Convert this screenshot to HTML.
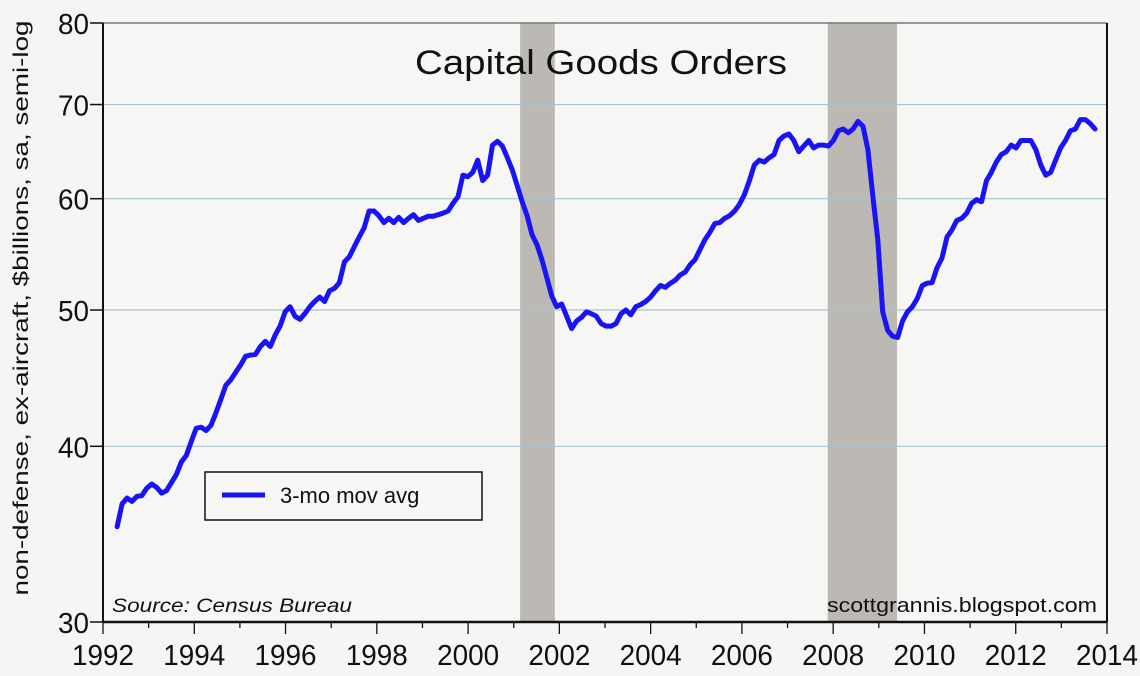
<!DOCTYPE html>
<html><head><meta charset="utf-8"><style>
html,body{margin:0;padding:0;background:#f5f5f3;}
svg{display:block;font-family:"Liberation Sans",sans-serif;}
</style></head><body>
<svg id="chart" width="1140" height="676" viewBox="0 0 1140 676" xmlns="http://www.w3.org/2000/svg">
<rect x="0" y="0" width="1140" height="676" fill="#f5f5f3"/>
<g id="rec"></g>
<g id="grid"></g>
<g id="axes"></g>
<path id="line" fill="none" stroke="#1a14f5" stroke-width="5" stroke-linejoin="round" stroke-linecap="round"/>
<text x="601" y="74" font-size="34" text-anchor="middle" textLength="372" lengthAdjust="spacingAndGlyphs" fill="#111">Capital Goods Orders</text>
<text transform="translate(28,308) rotate(-90)" font-size="21" text-anchor="middle" textLength="575" lengthAdjust="spacingAndGlyphs" fill="#111">non-defense, ex-aircraft, $billions, sa, semi-log</text>
<g>
<rect x="205" y="472" width="277" height="48" fill="#f7f7f5" stroke="#111" stroke-width="1.5"/>
<line x1="222" y1="495" x2="265" y2="495" stroke="#1a14f5" stroke-width="5"/>
<text x="280" y="503" font-size="22" fill="#111">3-mo mov avg</text>
</g>
<text x="112" y="612" font-size="19" font-style="italic" textLength="240" lengthAdjust="spacingAndGlyphs" fill="#111">Source: Census Bureau</text>
<text x="1097" y="612" font-size="20" text-anchor="end" textLength="270" lengthAdjust="spacingAndGlyphs" fill="#111">scottgrannis.blogspot.com</text>
</svg>
<script>
const yTicks=[30,40,50,60,70,80];
const xTickYears=[1992,1994,1996,1998,2000,2002,2004,2006,2008,2010,2012,2014];
const recessionStarts=[2001.14,2007.88];
const recessionEnds=[2001.9,2009.4];
const seriesStart=1992.31;
const seriesEnd=2013.74;
const values=[35.06,36.4,36.75,36.55,36.85,36.9,37.35,37.6,37.4,37.05,37.2,37.7,38.2,39.0,39.4,40.3,41.2,41.27,41.05,41.4,42.25,43.2,44.2,44.6,45.15,45.7,46.35,46.45,46.5,47.1,47.5,47.1,48.0,48.7,49.85,50.27,49.5,49.25,49.7,50.27,50.7,51.07,50.7,51.6,51.8,52.3,54.1,54.55,55.45,56.35,57.2,58.8,58.8,58.35,57.7,58.1,57.7,58.2,57.7,58.1,58.45,57.9,58.1,58.3,58.3,58.45,58.6,58.8,59.55,60.2,62.35,62.2,62.65,63.9,61.8,62.35,65.5,65.9,65.4,64.15,62.9,61.3,59.7,58.35,56.55,55.65,54.3,52.7,51.15,50.27,50.5,49.5,48.5,49.1,49.4,49.85,49.7,49.5,48.9,48.7,48.7,48.9,49.7,50,49.6,50.27,50.45,50.7,51.07,51.6,52.05,51.9,52.25,52.5,52.95,53.2,53.85,54.3,55.2,56.1,56.8,57.6,57.7,58.1,58.35,58.8,59.45,60.4,61.8,63.4,63.9,63.7,64.15,64.5,66.0,66.5,66.7,66.0,64.8,65.4,66.0,65.2,65.5,65.5,65.4,66.0,67.05,67.25,66.85,67.25,68.1,67.55,65.0,60.2,56.1,49.85,48.35,47.9,47.8,49.1,49.85,50.27,50.95,52.05,52.25,52.3,53.6,54.45,56.35,57.0,57.9,58.1,58.6,59.55,59.9,59.7,61.8,62.65,63.7,64.5,64.8,65.5,65.2,66.0,66.0,66.0,65.0,63.4,62.35,62.65,63.9,65.2,66.0,67.05,67.25,68.3,68.3,67.85,67.25];

const L=103,R=1107,T=23,B=622,X0=1992,X1=2014,YMIN=30,YMAX=80;
function xs(t){return L+(t-X0)/(X1-X0)*(R-L);}
function ys(v){return B-(Math.log(v)-Math.log(YMIN))/(Math.log(YMAX)-Math.log(YMIN))*(B-T);}
const NS='http://www.w3.org/2000/svg';
function mk(tag,attrs,parent){const e=document.createElementNS(NS,tag);for(const k in attrs)e.setAttribute(k,attrs[k]);parent.appendChild(e);return e;}
const rec=document.getElementById('rec'),grid=document.getElementById('grid'),axes=document.getElementById('axes');
mk('rect',{x:L,y:T,width:R-L,height:B-T,fill:'#f6f6f4'},rec);
for(let i=0;i<recessionStarts.length;i++){
  const r=mk('rect',{x:xs(recessionStarts[i]),y:T,width:xs(recessionEnds[i])-xs(recessionStarts[i]),height:B-T,fill:'#bcb8b4'},rec);
  
  
}
yTicks.forEach(v=>{
  const y=ys(v);
  if(v>YMIN&&v<YMAX){const g=mk('line',{x1:L,y1:y,x2:R,y2:y,stroke:'#a8c3cf','stroke-width':1.2},grid);
    
    }
  mk('line',{x1:L-13,y1:y,x2:L,y2:y,stroke:'#111','stroke-width':1.5},axes);
  const t=mk('text',{x:L-14,y:y+11,'font-size':29,'text-anchor':'end',fill:'#111',textLength:31,lengthAdjust:'spacingAndGlyphs'},axes);
  t.textContent=v;
  
  
});
mk('line',{x1:L,y1:T,x2:R,y2:T,stroke:'#777','stroke-width':1.5},axes);
mk('line',{x1:R,y1:T,x2:R,y2:B,stroke:'#111','stroke-width':2},axes);
mk('line',{x1:L,y1:T,x2:L,y2:B,stroke:'#111','stroke-width':2},axes);
mk('line',{x1:L,y1:B,x2:R,y2:B,stroke:'#111','stroke-width':2.5},axes);
for(let yr=X0;yr<=X1;yr++){
  const x=xs(yr),maj=(yr%2===0);
  mk('line',{x1:x,y1:B,x2:x,y2:B+(maj?12:6),stroke:'#111','stroke-width':1.3},axes);
}
xTickYears.forEach(yr=>{
  const t=mk('text',{x:xs(yr),y:665,'font-size':29,'text-anchor':'middle',fill:'#111',textLength:62,lengthAdjust:'spacingAndGlyphs'},axes);
  t.textContent=yr;
  
  
});
const n=values.length,step=(seriesEnd-seriesStart)/(n-1);
let d='';
values.forEach((v,i)=>{d+=(i?'L':'M')+xs(seriesStart+i*step).toFixed(1)+','+ys(v).toFixed(1);});
document.getElementById('line').setAttribute('d',d);
</script>
</body></html>
